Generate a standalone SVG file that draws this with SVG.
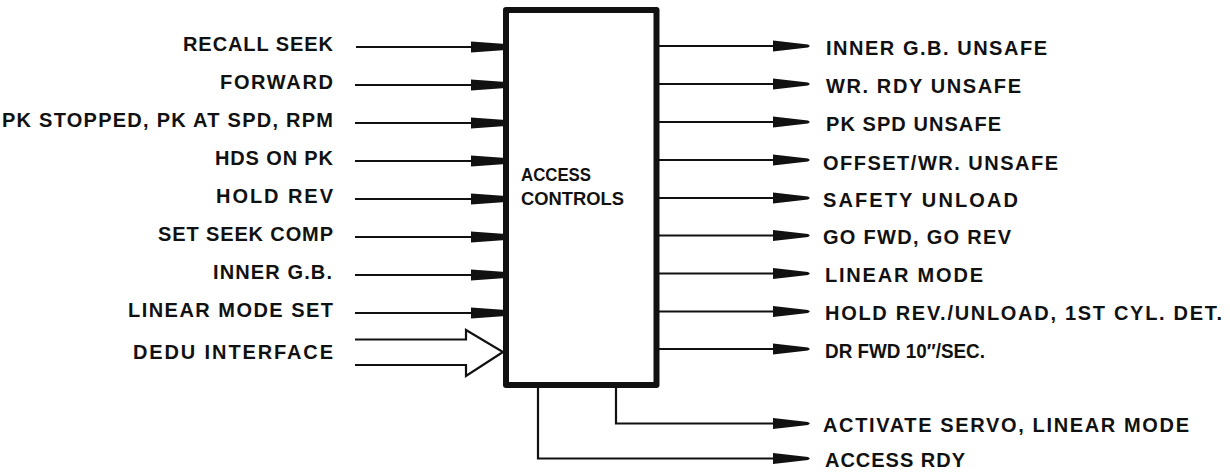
<svg xmlns="http://www.w3.org/2000/svg" xmlns:xlink="http://www.w3.org/1999/xlink" width="1230" height="474" viewBox="0 0 1230 474">
<style>
  .lbl { font-family: "Liberation Sans", Arial, Helvetica, sans-serif; font-weight: bold; font-size: 20px; fill: #111; }
  .box-lbl { font-family: "Liberation Sans", Arial, Helvetica, sans-serif; font-weight: bold; font-size: 18px; fill: #111; }
  .wire { fill: none; stroke: #111; stroke-width: 2.2; stroke-linejoin: miter; }
  .head { fill: #111; stroke: none; }
  .box { fill: #fff; stroke: #111; stroke-width: 6; stroke-linejoin: round; }
</style>
<defs>
  <path id="inHead" class="head" d="M0,-5.5 L35,-3 L35,3 L0,5.5 Z"/>
  <path id="outHead" class="head" d="M0,-5.5 L35,-1.6 L37,0 L35,1.6 L0,5.5 Z"/>
</defs>
<rect width="1230" height="474" fill="#fff"/>

<g id="connectors">
  <!-- inputs -->
  <line class="wire" x1="356" y1="47" x2="472" y2="47"/><use xlink:href="#inHead" x="471" y="47"/>
  <line class="wire" x1="355" y1="85" x2="472" y2="85"/><use xlink:href="#inHead" x="471" y="85"/>
  <line class="wire" x1="355" y1="123" x2="472" y2="123"/><use xlink:href="#inHead" x="471" y="123"/>
  <line class="wire" x1="355" y1="161" x2="472" y2="161"/><use xlink:href="#inHead" x="471" y="161"/>
  <line class="wire" x1="355" y1="199" x2="472" y2="199"/><use xlink:href="#inHead" x="471" y="199"/>
  <line class="wire" x1="355" y1="237" x2="472" y2="237"/><use xlink:href="#inHead" x="471" y="237"/>
  <line class="wire" x1="355" y1="275" x2="472" y2="275"/><use xlink:href="#inHead" x="471" y="275"/>
  <line class="wire" x1="355" y1="313" x2="472" y2="313"/><use xlink:href="#inHead" x="471" y="313"/>
  <!-- DEDU interface hollow arrow -->
  <path class="wire" d="M355,339.5 L466,339.5 L466,330 L503,352 L466,376 L466,365 L355,365"/>
  <!-- outputs -->
  <line class="wire" x1="658" y1="46" x2="774" y2="46"/><use xlink:href="#outHead" x="773" y="46"/>
  <line class="wire" x1="658" y1="84" x2="774" y2="84"/><use xlink:href="#outHead" x="773" y="84"/>
  <line class="wire" x1="658" y1="122" x2="774" y2="122"/><use xlink:href="#outHead" x="773" y="122"/>
  <line class="wire" x1="658" y1="160" x2="774" y2="160"/><use xlink:href="#outHead" x="773" y="160"/>
  <line class="wire" x1="658" y1="198" x2="774" y2="198"/><use xlink:href="#outHead" x="773" y="198"/>
  <line class="wire" x1="658" y1="235.5" x2="774" y2="235.5"/><use xlink:href="#outHead" x="773" y="235.5"/>
  <line class="wire" x1="658" y1="273.5" x2="774" y2="273.5"/><use xlink:href="#outHead" x="773" y="273.5"/>
  <line class="wire" x1="658" y1="311.5" x2="774" y2="311.5"/><use xlink:href="#outHead" x="773" y="311.5"/>
  <line class="wire" x1="658" y1="349" x2="774" y2="349"/><use xlink:href="#outHead" x="773" y="349"/>
  <!-- bottom outputs -->
  <path class="wire" d="M616,386 L616,423.5 L774,423.5"/><use xlink:href="#outHead" x="773" y="423.5"/>
  <path class="wire" d="M538,386 L538,458.5 L774,458.5"/><use xlink:href="#outHead" x="773" y="458.5"/>
</g>

<g id="access-controls">
  <rect class="box" x="506" y="10" width="150.5" height="375"/>
  <text class="box-lbl" x="521" y="181" textLength="70" lengthAdjust="spacingAndGlyphs">ACCESS</text>
  <text class="box-lbl" x="521" y="205" textLength="103" lengthAdjust="spacingAndGlyphs">CONTROLS</text>
</g>

<g id="in-recall-seek"><text class="lbl" x="183" y="50.5" textLength="150">RECALL SEEK</text></g>
<g id="in-forward"><text class="lbl" x="220" y="88.5" textLength="113">FORWARD</text></g>
<g id="in-pk-stopped"><text class="lbl" x="2" y="126.5" textLength="331">PK STOPPED, PK AT SPD, RPM</text></g>
<g id="in-hds-on-pk"><text class="lbl" x="215" y="164.5" textLength="118">HDS ON PK</text></g>
<g id="in-hold-rev"><text class="lbl" x="216" y="202.5" textLength="117">HOLD REV</text></g>
<g id="in-set-seek-comp"><text class="lbl" x="158" y="240.5" textLength="175">SET SEEK COMP</text></g>
<g id="in-inner-gb"><text class="lbl" x="213" y="278.5" textLength="119">INNER G.B.</text></g>
<g id="in-linear-mode-set"><text class="lbl" x="128" y="316.5" textLength="205">LINEAR MODE SET</text></g>
<g id="in-dedu-interface"><text class="lbl" x="133" y="359" textLength="200">DEDU INTERFACE</text></g>

<g id="out-inner-gb-unsafe"><text class="lbl" x="826" y="54.5" textLength="221">INNER G.B. UNSAFE</text></g>
<g id="out-wr-rdy-unsafe"><text class="lbl" x="826" y="93" textLength="195">WR. RDY UNSAFE</text></g>
<g id="out-pk-spd-unsafe"><text class="lbl" x="826" y="131" textLength="175">PK SPD UNSAFE</text></g>
<g id="out-offset-wr-unsafe"><text class="lbl" x="823" y="169.5" textLength="235">OFFSET/WR. UNSAFE</text></g>
<g id="out-safety-unload"><text class="lbl" x="823" y="206.5" textLength="195">SAFETY UNLOAD</text></g>
<g id="out-go-fwd-go-rev"><text class="lbl" x="823" y="244" textLength="188">GO FWD, GO REV</text></g>
<g id="out-linear-mode"><text class="lbl" x="825" y="282" textLength="158">LINEAR MODE</text></g>
<g id="out-hold-rev-unload"><text class="lbl" x="825" y="320" textLength="397">HOLD REV./UNLOAD, 1ST CYL. DET.</text></g>
<g id="out-dr-fwd"><text class="lbl" x="825" y="357.5" textLength="160" lengthAdjust="spacingAndGlyphs">DR FWD 10″/SEC.</text></g>
<g id="out-activate-servo"><text class="lbl" x="823" y="432" textLength="366">ACTIVATE SERVO, LINEAR MODE</text></g>
<g id="out-access-rdy"><text class="lbl" x="825" y="467" textLength="140">ACCESS RDY</text></g>
</svg>
